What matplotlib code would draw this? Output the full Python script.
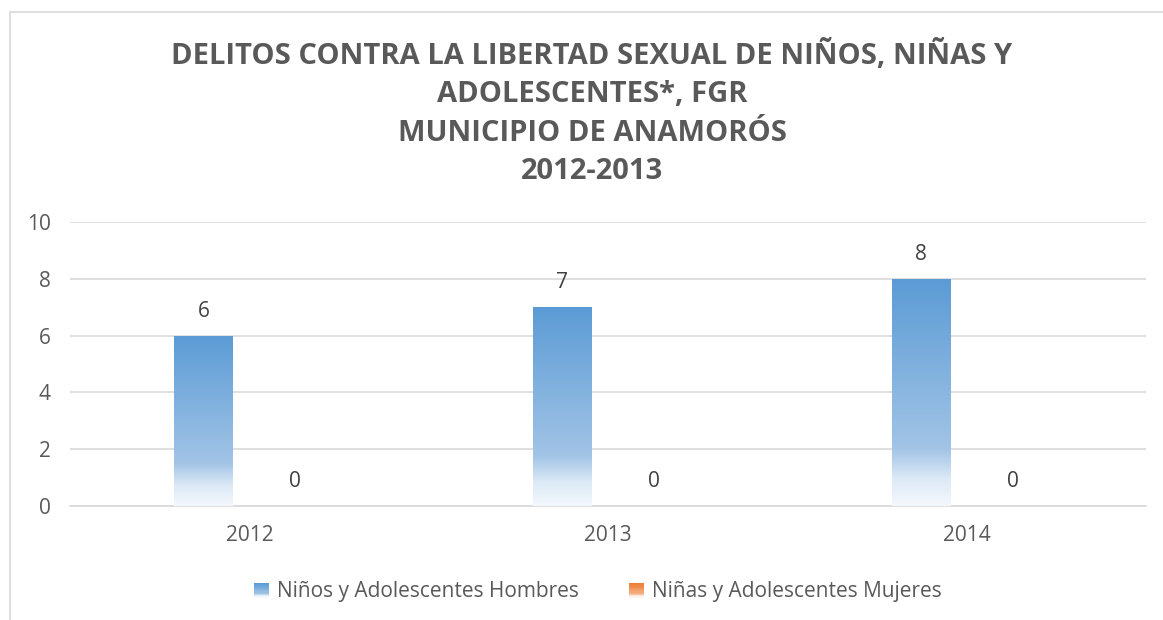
import numpy as np
import matplotlib
matplotlib.use("Agg")
import matplotlib.pyplot as plt
from matplotlib.colors import LinearSegmentedColormap
from matplotlib.patches import Rectangle
from matplotlib.legend_handler import HandlerBase

# data
years = ["2012", "2013", "2014"]
hombres = [6, 7, 8]
mujeres = [0, 0, 0]
series_names = ["Niños y Adolescentes Hombres", "Niñas y Adolescentes Mujeres"]
title = ("DELITOS CONTRA LA LIBERTAD SEXUAL DE NIÑOS, NIÑAS Y\n"
         "ADOLESCENTES*, FGR\nMUNICIPIO DE ANAMORÓS\n2012-2013")
yticks = [0, 2, 4, 6, 8, 10]

plt.rcParams['font.family'] = ['Open Sans', 'DejaVu Sans']
txt = '#595959'
grid_c = '#d9d9d9'

blue_cm = LinearSegmentedColormap.from_list(
    'blue', [(0, '#f4f8fc'), (0.12, '#dce9f6'), (0.25, '#a2c4e6'), (1, '#5b9bd5')])
orange_cm = LinearSegmentedColormap.from_list(
    'orange', [(0, '#fdf3ec'), (0.12, '#f8dcc8'), (0.25, '#f4b183'), (1, '#ed7d31')])
grad = np.linspace(0, 1, 256).reshape(-1, 1)

fig = plt.figure(figsize=(11.63, 6.2), dpi=100)
# chart frame
fig.patches.append(Rectangle((10 / 1163, -0.1), 1.2, 1 - 12 / 620 + 0.1,
                             transform=fig.transFigure, fill=False,
                             edgecolor=grid_c, lw=1.2))
ax = fig.add_axes([70 / 1163, 1 - 506 / 620, 1076 / 1163, 284 / 620])

x = np.arange(len(years))
w = 0.162
off = 0.128


def gradient_bars(xs, vals, cmap):
    bars = ax.bar(xs, vals, width=w, color='none', edgecolor='none', zorder=3)
    for b in bars:
        if b.get_height() <= 0:
            continue
        im = ax.imshow(grad, cmap=cmap, origin='lower', aspect='auto',
                       extent=[b.get_x(), b.get_x() + b.get_width(), 0, b.get_height()],
                       zorder=3)
        im.set_clip_path(b)
    for b, v in zip(bars, vals):
        ax.annotate(str(v), (b.get_x() + b.get_width() / 2, v), xytext=(0, 17.5),
                    textcoords='offset points', ha='center', va='center',
                    fontsize=15, color='#404040')
    return bars


b1 = gradient_bars(x - off, hombres, blue_cm)
b2 = gradient_bars(x + off, mujeres, orange_cm)

ax.set_xlim(-0.5, 2.5)
ax.set_ylim(0, 10)
ax.set_yticks(yticks)
ax.set_xticks(x, years)
ax.tick_params(length=0, labelsize=15, labelcolor=txt)
ax.tick_params(axis='y', pad=14)
ax.tick_params(axis='x', pad=14)
ax.yaxis.grid(True, color=grid_c, lw=1.2)
ax.set_axisbelow(True)
for s in ['top', 'right', 'left']:
    ax.spines[s].set_visible(False)
ax.spines['bottom'].set_color(grid_c)
ax.spines['bottom'].set_linewidth(1.2)


class GradHandler(HandlerBase):
    def __init__(self, cmap):
        super().__init__()
        self.cmap = cmap

    def create_artists(self, legend, orig, xd, yd, width, height, fontsize, trans):
        n = 12
        s = height * 1.0
        x0 = xd + width - s
        arts = []
        for i in range(n):
            c = self.cmap(1 - i / (n - 1))
            arts.append(Rectangle((x0, yd + height - s + s * (n - 1 - i) / n), s, s / n,
                                  facecolor=c, edgecolor='none', transform=trans))
        return arts


leg = fig.legend([b1, b2], series_names, loc='center', bbox_to_anchor=(597 / 1163, 1 - 592 / 620),
                 ncol=2, frameon=False, fontsize=15, labelcolor=txt,
                 handler_map={b1: GradHandler(blue_cm), b2: GradHandler(orange_cm)},
                 handlelength=0.8, handletextpad=0.4, columnspacing=2.3)

fig.text(592 / 1163, 1 - 113 / 620, title, ha='center', va='center', fontsize=21,
         fontweight='bold', color=txt, linespacing=1.42)

fig.savefig('out.png', dpi=100)
